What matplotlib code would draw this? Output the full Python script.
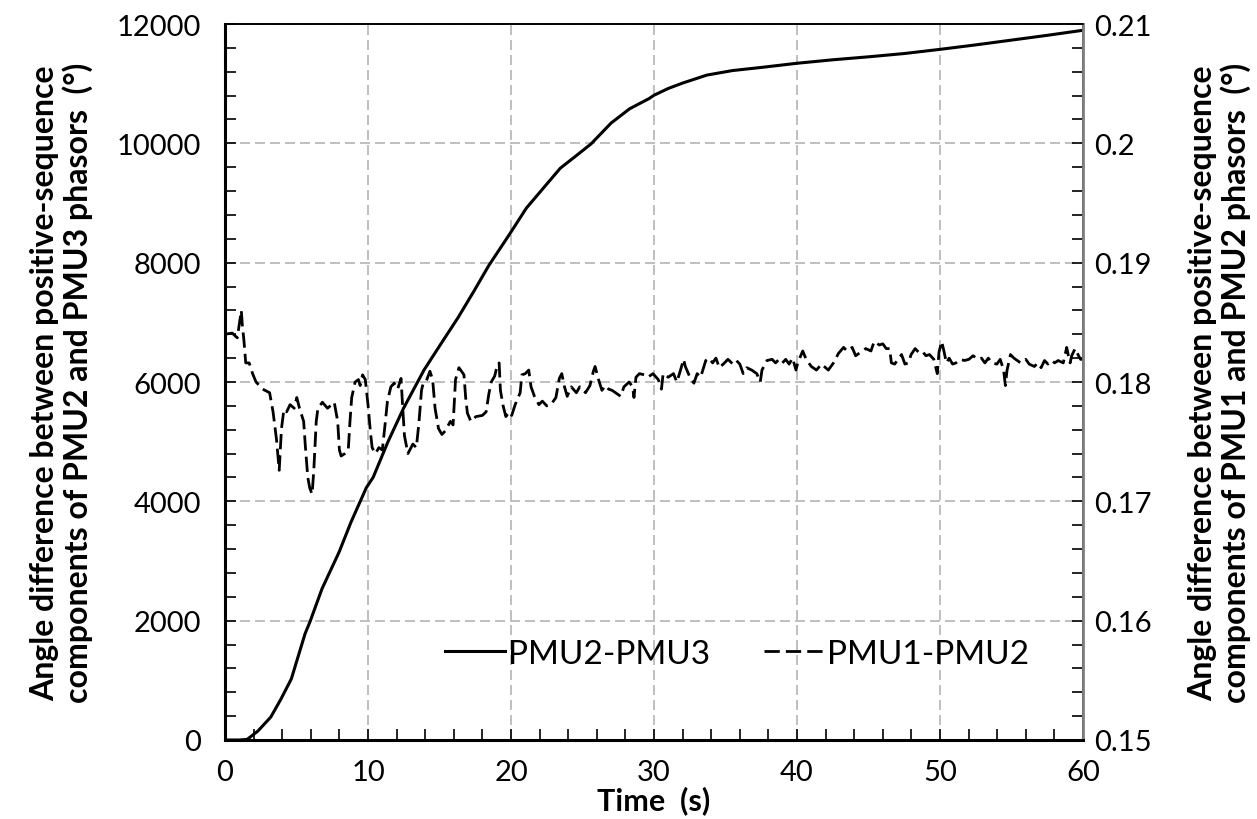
import matplotlib
matplotlib.use("Agg")
import matplotlib.pyplot as plt
from matplotlib.ticker import MultipleLocator

plt.rcParams['font.family'] = ['Lato', 'DejaVu Sans']

# PMU2-PMU3 (left axis, degrees)
t_23 = [0, 1.0, 1.55, 2.3, 3.2, 3.9, 4.64, 5.6, 5.95, 6.79, 7.98, 8.8, 9.88, 10.36,
        11.4, 12.5, 13.93, 15.1, 16.3, 17.4, 18.45, 19.9, 21.07, 22.3, 23.45, 24.6,
        25.6, 27.0, 28.3, 29.64, 30.0, 31.0, 32.0, 33.7, 35.5, 37.5, 40.0, 42.5, 45.0,
        47.5, 50.0, 52.5, 55.0, 57.5, 60.0]
v_23 = [0, 0, 10, 150, 384, 680, 1025, 1782, 1986, 2538, 3150, 3645, 4227, 4402,
        5000, 5567, 6206, 6640, 7080, 7520, 7953, 8477, 8913, 9260, 9584, 9800,
        9991, 10340, 10580, 10748, 10806, 10920, 11010, 11144, 11220, 11272, 11342, 11400, 11450,
        11505, 11575, 11650, 11730, 11810, 11895]

# PMU1-PMU2 (right axis, degrees)
t_12 = [0.0, 0.5, 0.86, 1.14, 1.21, 1.33, 1.45, 1.69, 1.93, 2.17, 2.64, 3.12, 3.36, 3.6,
        3.79, 3.95, 4.12, 4.31, 4.55, 4.84, 5.02, 5.21, 5.5, 5.62, 5.79, 5.93, 6.09, 6.21,
        6.38, 6.5, 6.81, 7.17, 7.64, 7.88, 8.0, 8.12, 8.38, 8.62, 8.74, 8.86, 9.1, 9.33,
        9.45, 9.62, 9.81, 10.0, 10.17, 10.29, 10.52, 10.76, 11.0, 11.19, 11.36, 11.6,
        11.83, 12.07, 12.31, 12.43, 12.55, 12.79, 13.14, 13.38, 13.57, 13.74, 13.86,
        14.05, 14.33, 14.52, 14.69, 14.93, 15.17, 15.4, 15.76, 15.95, 16.05, 16.12,
        16.36, 16.48, 16.71, 16.83, 16.95, 17.19, 17.55, 18.0, 18.26, 18.45, 18.62,
        18.86, 19.02, 19.17, 19.26, 19.45, 19.64, 19.88, 20.05, 20.29, 20.64, 20.76,
        21.0, 21.24, 21.4, 21.64, 21.95, 22.19, 22.5, 22.79, 23.14, 23.38, 23.55, 23.74,
        23.93, 24.21, 24.57, 24.81, 25.21, 25.52, 25.76, 25.88, 26.12, 26.36, 26.6,
        26.83, 27.07, 27.67, 27.9, 28.26, 28.5, 28.6, 28.74, 28.98, 29.33, 29.57, 29.93,
        30.3, 30.52, 30.64, 31.0, 31.36, 31.6, 31.83, 32.07, 32.19, 32.55, 32.79, 33.02,
        33.26, 33.62, 33.86, 34.1, 34.33, 34.57, 34.93, 35.17, 35.52, 35.76, 36.0, 36.24,
        36.48, 36.83, 37.19, 37.43, 37.55, 37.9, 38.26, 38.5, 38.74, 38.98, 39.21, 39.45,
        39.69, 39.93, 40.05, 40.4, 40.64, 41.0, 41.36, 41.71, 42.19, 42.55, 42.9, 43.26,
        43.5, 43.86, 44.1, 44.45, 44.81, 45.17, 45.4, 45.76, 46.0, 46.24, 46.48, 46.6,
        46.83, 47.07, 47.31, 47.55, 47.79, 47.98, 48.26, 48.5, 48.74, 49.02, 49.26,
        49.57, 49.81, 49.93, 50.12, 50.29, 50.45, 50.64, 50.88, 51.12, 51.4, 51.71,
        52.02, 52.31, 52.67, 52.9, 53.14, 53.38, 53.62, 53.98, 54.21, 54.45, 54.57,
        54.69, 54.93, 55.17, 55.4, 55.64, 56.0, 56.24, 56.6, 56.83, 57.07, 57.31, 57.55,
        57.79, 58.02, 58.26, 58.62, 58.86, 58.98, 59.1, 59.21, 59.45, 59.69, 59.83, 60.0]
v_12 = [0.1840, 0.1841, 0.1837, 0.1860, 0.1848, 0.1834, 0.1816, 0.1816, 0.1807, 0.1800,
        0.1794, 0.1791, 0.1775, 0.1752, 0.1726, 0.1761, 0.1777, 0.1775, 0.1781, 0.1778,
        0.1787, 0.1778, 0.1767, 0.1746, 0.1720, 0.1711, 0.1706, 0.1726, 0.1767, 0.1778,
        0.1783, 0.1778, 0.1783, 0.1767, 0.1743, 0.1738, 0.1740, 0.1743, 0.1767, 0.1787,
        0.1800, 0.1802, 0.1797, 0.1806, 0.1802, 0.1781, 0.1758, 0.1745, 0.1740, 0.1745,
        0.1743, 0.1764, 0.1784, 0.1796, 0.1799, 0.1794, 0.1803, 0.1778, 0.1755, 0.1740,
        0.1748, 0.1745, 0.1767, 0.1793, 0.1799, 0.1800, 0.1809, 0.1802, 0.1778, 0.1761,
        0.1756, 0.1759, 0.1767, 0.1764, 0.1787, 0.1802, 0.1812, 0.1810, 0.1806, 0.1787,
        0.1774, 0.1767, 0.1771, 0.1772, 0.1775, 0.1790, 0.1800, 0.1805, 0.1813, 0.1816,
        0.1793, 0.1780, 0.1771, 0.1775, 0.1772, 0.1781, 0.1791, 0.1806, 0.1807, 0.1810,
        0.1796, 0.1788, 0.1781, 0.1784, 0.1780, 0.1781, 0.1787, 0.1803, 0.1807, 0.1796,
        0.1788, 0.1796, 0.1791, 0.1796, 0.1791, 0.1797, 0.1809, 0.1813, 0.1802, 0.1793,
        0.1797, 0.1794, 0.1793, 0.1788, 0.1796, 0.1800, 0.1796, 0.1787, 0.1804, 0.1807,
        0.1806, 0.1804, 0.1807, 0.1802, 0.1794, 0.1807, 0.1804, 0.1807, 0.1800, 0.1809,
        0.1819, 0.1813, 0.1803, 0.1799, 0.1807, 0.1804, 0.1818, 0.1820, 0.1816, 0.1820,
        0.1812, 0.1816, 0.1819, 0.1815, 0.1818, 0.1815, 0.1807, 0.1812, 0.1810, 0.1807,
        0.1800, 0.1810, 0.1818, 0.1819, 0.1816, 0.1819, 0.1816, 0.1819, 0.1815, 0.1820,
        0.1810, 0.1816, 0.1826, 0.1819, 0.1813, 0.1810, 0.1815, 0.1810, 0.1816, 0.1824,
        0.1829, 0.1826, 0.1829, 0.1822, 0.1825, 0.1828, 0.1826, 0.1834, 0.1831, 0.1832,
        0.1828, 0.1828, 0.1816, 0.1815, 0.1819, 0.1823, 0.1815, 0.1816, 0.1823, 0.1828,
        0.1825, 0.1826, 0.1822, 0.1823, 0.1819, 0.1807, 0.1825, 0.1834, 0.1825, 0.1816,
        0.1820, 0.1815, 0.1816, 0.1819, 0.1818, 0.1819, 0.1822, 0.1819, 0.1820, 0.1816,
        0.1820, 0.1816, 0.1815, 0.1819, 0.1810, 0.1797, 0.1810, 0.1823, 0.1820, 0.1818,
        0.1816, 0.1819, 0.1815, 0.1813, 0.1816, 0.1812, 0.1818, 0.1815, 0.1818, 0.1816,
        0.1818, 0.1816, 0.1829, 0.1822, 0.1816, 0.1822, 0.1828, 0.1822, 0.1819, 0.1819]

x_ticks = [0, 10, 20, 30, 40, 50, 60]
y_left_ticks = [0, 2000, 4000, 6000, 8000, 10000, 12000]
y_right_ticks = [0.15, 0.16, 0.17, 0.18, 0.19, 0.2, 0.21]
y_right_labels = ['0.15', '0.16', '0.17', '0.18', '0.19', '0.2', '0.21']

fig = plt.figure(figsize=(12.57, 8.2), dpi=100)
L, R, T, B = 225, 1083, 25, 741
ax = fig.add_axes([L/1257, 1-B/820, (R-L)/1257, (B-T)/820])
ax2 = ax.twinx()

l1, = ax.plot(t_23, v_23, color='black', lw=2.2, label='PMU2-PMU3', zorder=3)
l2, = ax2.plot(t_12, v_12, color='black', lw=2.0, dashes=(5.5, 2.2), label='PMU1-PMU2')

ax.set_xlim(0, 60)
ax.set_ylim(0, 12000)
ax2.set_ylim(0.15, 0.21)
ax.set_xticks(x_ticks)
ax.set_yticks(y_left_ticks)
ax2.set_yticks(y_right_ticks)
ax2.set_yticklabels(y_right_labels)
ax.xaxis.set_minor_locator(MultipleLocator(2))
ax.yaxis.set_minor_locator(MultipleLocator(400))
ax2.yaxis.set_minor_locator(MultipleLocator(0.002))

ax.grid(True, which='major', color='#b4b4b4', linestyle=(0, (6, 3)), lw=1.2)
ax.set_axisbelow(True)

for a in (ax, ax2):
    a.tick_params(which='both', direction='in', labelsize=21, width=1.2)
    a.tick_params(which='major', length=8)
    a.tick_params(which='minor', length=8)
    for s in a.spines.values():
        s.set_linewidth(1.2)
ax.tick_params(axis='x', which='major', pad=14)
ax.tick_params(axis='y', which='major', pad=17)
ax2.tick_params(axis='y', which='major', pad=8)
ax2.spines['left'].set_linewidth(2.2)
ax2.spines['bottom'].set_linewidth(2.2)
ax2.spines['right'].set_color('#808080')
ax2.spines['right'].set_linewidth(2.0)

ax.set_xlabel('Time  (s)', fontsize=22, fontweight='bold', labelpad=0)
ax.set_ylabel('Angle difference between positive-sequence\ncomponents of PMU2 and PMU3 phasors  (°)',
              fontsize=23, fontweight='bold', labelpad=17, linespacing=1.15)
ax2.set_ylabel('Angle difference between positive-sequence\ncomponents of PMU1 and PMU2 phasors  (°)',
               fontsize=23, fontweight='bold', rotation=90, labelpad=26, linespacing=1.15)

leg = ax2.legend([l1, l2], ['PMU2-PMU3', 'PMU1-PMU2'], loc='center',
                 bbox_to_anchor=(0.597, 0.12), ncol=2, frameon=False, fontsize=24,
                 handlelength=1.8, handletextpad=0.1, columnspacing=1.6)

fig.savefig('out.png', dpi=100)
